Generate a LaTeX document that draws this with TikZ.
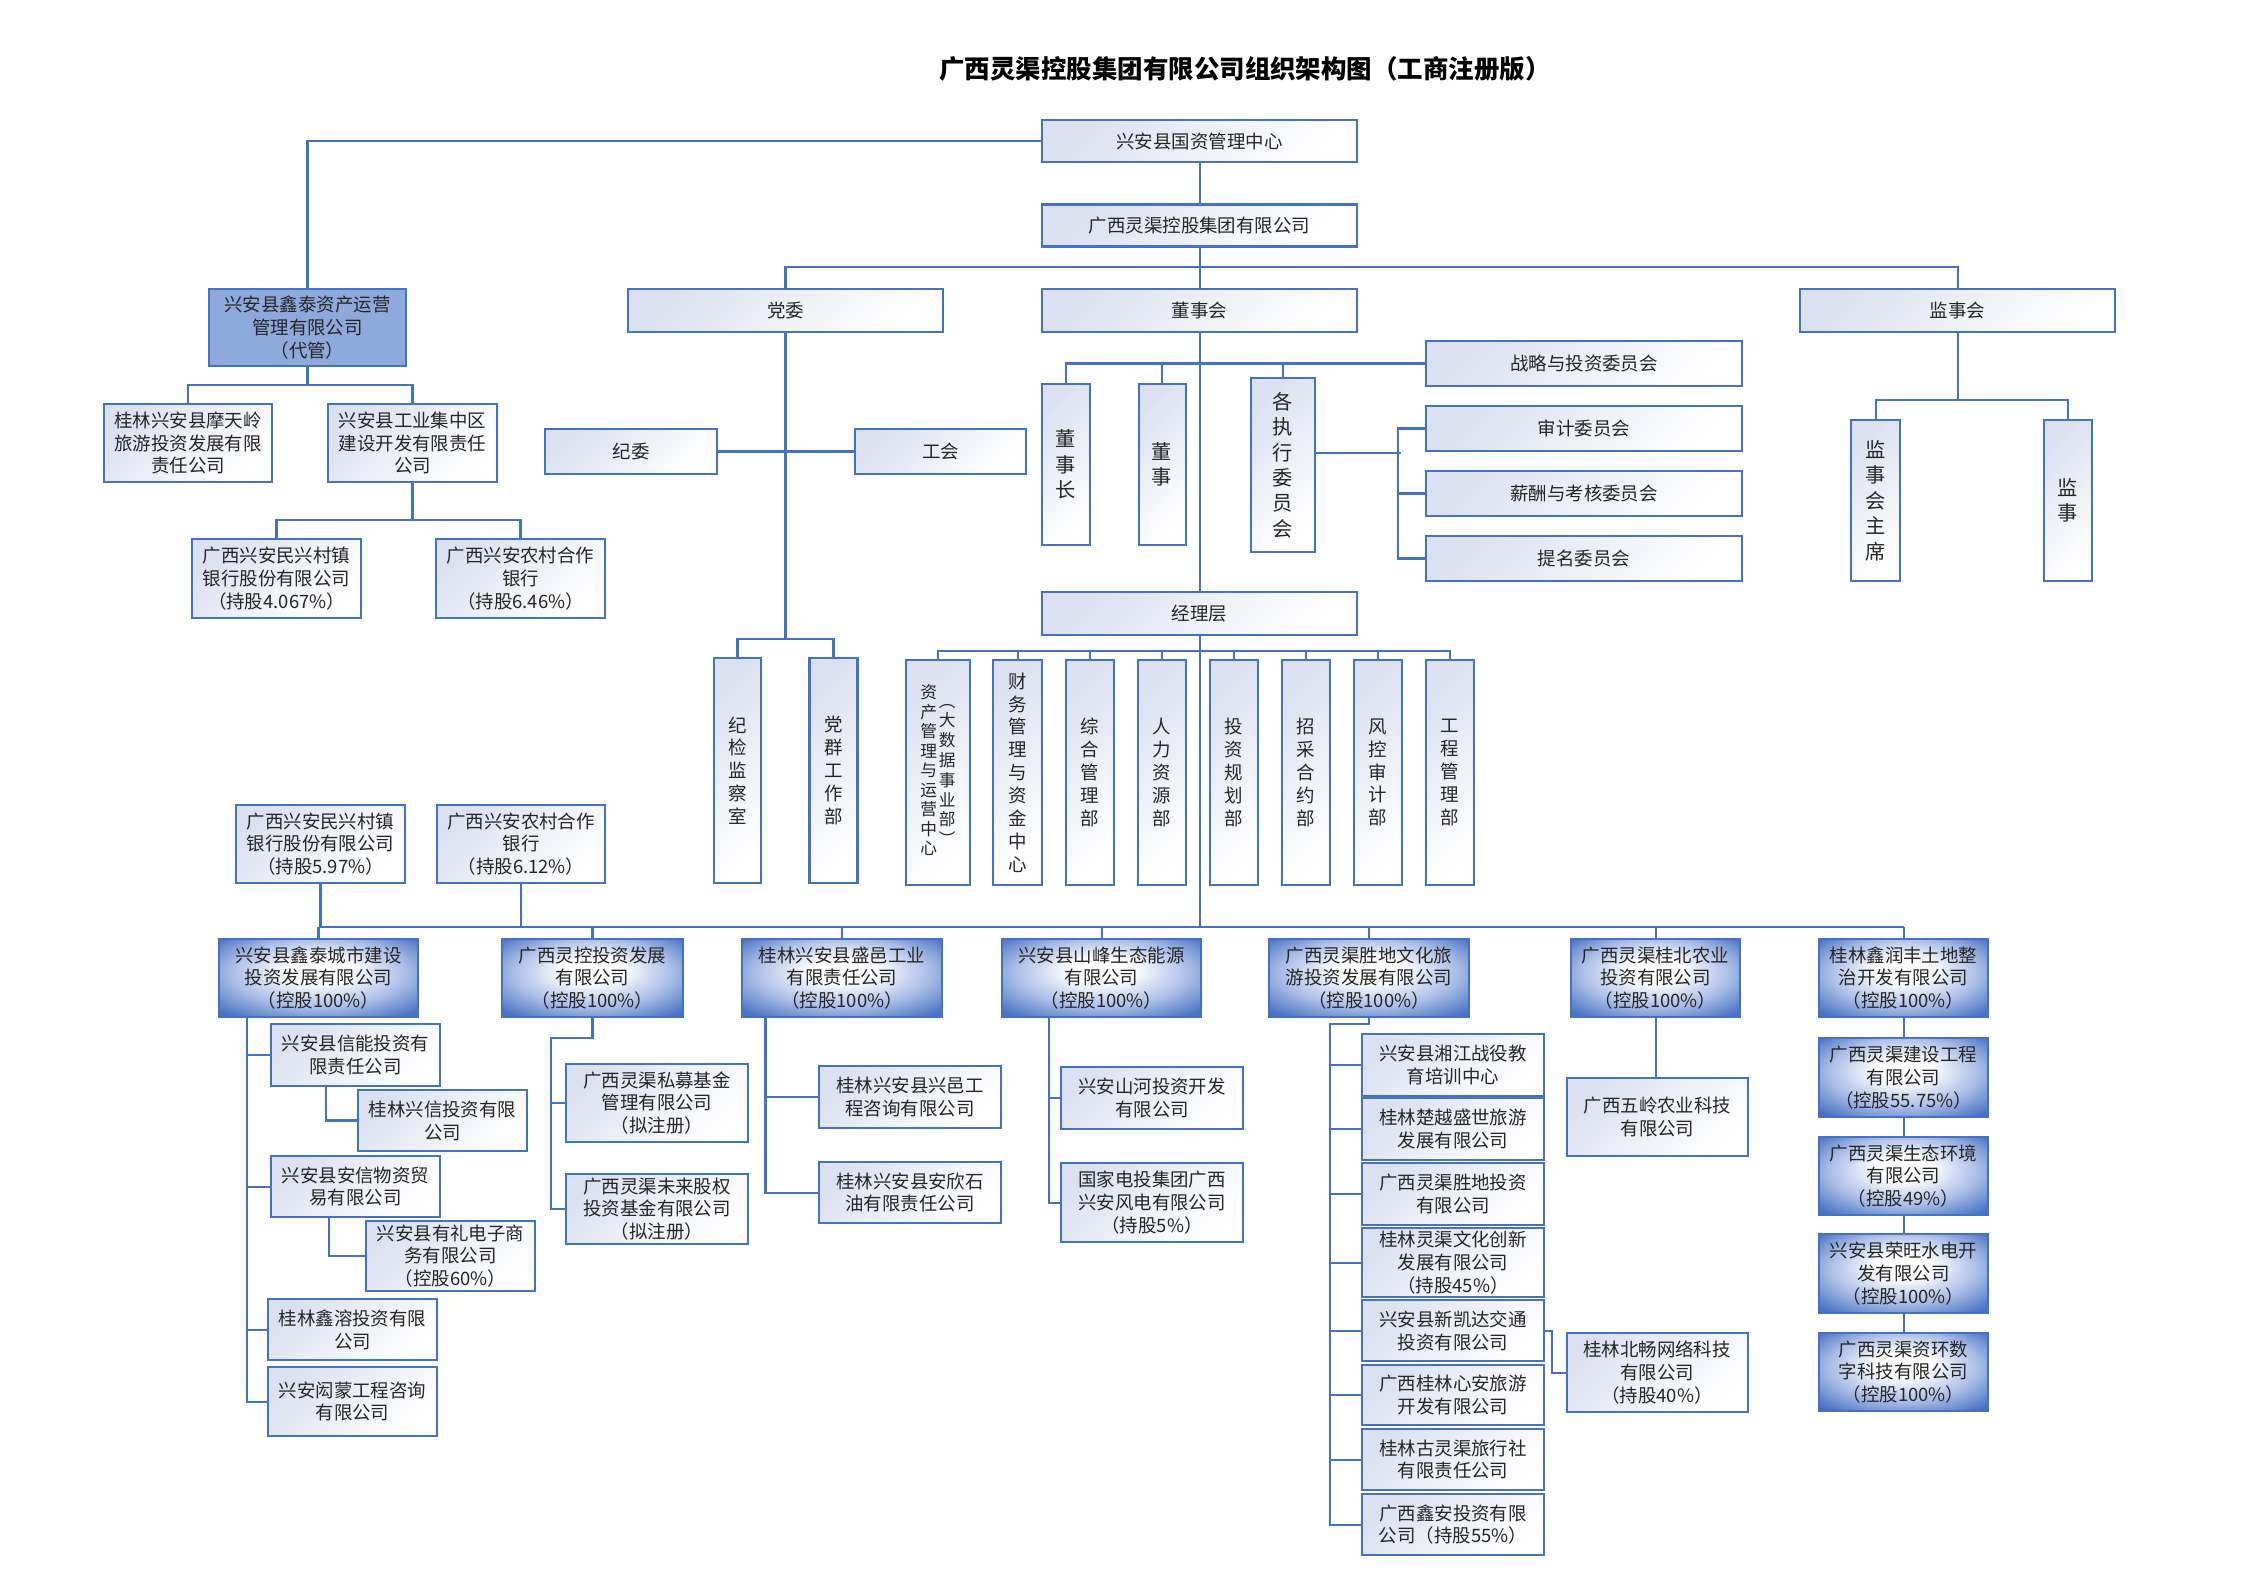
\documentclass[tikz,border=0pt]{standalone}
\usepackage{fontspec}
\setmainfont{Noto Sans CJK SC}
\usetikzlibrary{calc}
\definecolor{lnblue}{HTML}{4472C4}
\definecolor{boxlav}{HTML}{DCE1F1}
\definecolor{glowblue}{HTML}{4A72C4}
\definecolor{glowmid}{HTML}{A9BDE6}
\definecolor{xtfill}{HTML}{8EA9DB}
\definecolor{txt}{HTML}{262626}
\pgfdeclareradialshading{boxglow}{\pgfpoint{0bp}{6bp}}{color(0bp)=(white); color(8bp)=(white); color(22bp)=(glowmid); color(34bp)=(glowblue); color(50bp)=(glowblue)}
\newcommand{\stk}[1]{\begin{tabular}[c]{@{}c@{}}#1\end{tabular}}

\tikzset{
  box/.style={draw=lnblue, line width=1.15pt, align=center, inner sep=0pt, text=txt, font=\fontsize{10.5}{13}\selectfont},
  lbox/.style={box, top color=boxlav, bottom color=white, shading angle=45},
  cobox/.style={box, shade, shading=boxglow},
  mbox/.style={lbox, font=\fontsize{11.5}{14.5}\selectfont},
  sz/.style 2 args={minimum width=#1*0.2mm, minimum height=#2*0.2mm},
  link/.style={draw=lnblue, line width=1.15pt},
}

\begin{document}
\begin{tikzpicture}[x=0.2mm, y=-0.2mm]
  \useasboundingbox (0,0) rectangle (2244,1587);

  % title
  \node[font=\fontsize{14.5}{16}\selectfont\bfseries] (title) at (1245,69) {广西灵渠控股集团有限公司组织架构图（工商注册版）};

  % top levels
  \node[lbox, sz={315}{42}] (gz) at (1199.5,141) {兴安县国资管理中心};
  \node[lbox, sz={315}{42}] (jt) at (1199.5,225.5) {广西灵渠控股集团有限公司};
  \node[lbox, sz={315}{43}] (dw) at (785.5,310.5) {党委};
  \node[lbox, sz={315}{43}] (dsh) at (1199.5,310.5) {董事会};
  \node[lbox, sz={315}{43}] (jsh) at (1957.5,310.5) {监事会};

  % managed company
  \node[box, fill=xtfill, sz={197}{77}] (xt) at (307.5,327.5) {兴安县鑫泰资产运营\\管理有限公司\\（代管）};
  \node[lbox, sz={168}{78}] (mtl) at (188,443) {桂林兴安县摩天岭\\旅游投资发展有限\\责任公司};
  \node[lbox, sz={169}{78}] (gyq) at (412.5,443) {兴安县工业集中区\\建设开发有限责任\\公司};
  \node[lbox, sz={169}{79}] (mx1) at (276.5,578.5) {广西兴安民兴村镇\\银行股份有限公司\\（持股4.067\%）};
  \node[lbox, sz={169}{79}] (nc1) at (520.5,578.5) {广西兴安农村合作\\银行\\（持股6.46\%）};

  % party
  \node[lbox, sz={172}{45}] (jw) at (631,451.5) {纪委};
  \node[lbox, sz={171}{45}] (gh) at (940.5,451.5) {工会};
  \node[lbox, sz={47}{225}] (jjjc) at (737.5,770.5) {纪\\检\\监\\察\\室};
  \node[lbox, sz={48}{225}] (dq) at (833.5,770.5) {党\\群\\工\\作\\部};

  % board
  \node[mbox, sz={48}{161}] (dsz) at (1066,464.5) {董\\事\\长};
  \node[mbox, sz={47}{161}] (ds) at (1162,464.5) {董\\事};
  \node[mbox, sz={64}{174}] (gzx) at (1282.5,465) {各\\执\\行\\委\\员\\会};
  \node[lbox, sz={316}{45}] (zl) at (1584,363.5) {战略与投资委员会};
  \node[lbox, sz={316}{45}] (sj) at (1584,428.5) {审计委员会};
  \node[lbox, sz={316}{45}] (xc) at (1584,493.5) {薪酬与考核委员会};
  \node[lbox, sz={316}{45}] (tm) at (1584,558.5) {提名委员会};

  % supervisors
  \node[mbox, sz={49}{161}] (jszx) at (1875.5,500.5) {监\\事\\会\\主\\席};
  \node[mbox, sz={48}{161}] (js) at (2068,500.5) {监\\事};

  % management
  \node[lbox, sz={315}{43}] (jl) at (1199.5,613.5) {经理层};
  \node[lbox, sz={64}{225}, font=\fontsize{9.5}{11}\selectfont] (zc) at (938,772.5) {\stk{资\\产\\管\\理\\与\\运\\营\\中\\心}\hspace{1pt}\stk{︵\\大\\数\\据\\事\\业\\部\\︶}};
  \node[lbox, sz={49}{225}] (cw) at (1017.5,772.5) {财\\务\\管\\理\\与\\资\\金\\中\\心};
  \node[lbox, sz={48}{225}] (zhgl) at (1089.5,772.5) {综\\合\\管\\理\\部};
  \node[lbox, sz={48}{225}] (rl) at (1162,772.5) {人\\力\\资\\源\\部};
  \node[lbox, sz={48}{225}] (tzgh) at (1234,772.5) {投\\资\\规\\划\\部};
  \node[lbox, sz={48}{225}] (zcy) at (1306,772.5) {招\\采\\合\\约\\部};
  \node[lbox, sz={48}{225}] (fkjs) at (1378,772.5) {风\\控\\审\\计\\部};
  \node[lbox, sz={48}{225}] (gcgl) at (1450,772.5) {工\\程\\管\\理\\部};

  % shareholdings of the group
  \node[lbox, sz={169}{78}] (mx2) at (320.5,844) {广西兴安民兴村镇\\银行股份有限公司\\（持股5.97\%）};
  \node[lbox, sz={168}{78}] (nc2) at (521,844) {广西兴安农村合作\\银行\\（持股6.12\%）};

  % subsidiaries
  \node[cobox, sz={199}{78}] (cs) at (318.5,978) {兴安县鑫泰城市建设\\投资发展有限公司\\（控股100\%）};
  \node[cobox, sz={181}{78}] (lk) at (592.5,978) {广西灵控投资发展\\有限公司\\（控股100\%）};
  \node[cobox, sz={200}{78}] (sy) at (842,978) {桂林兴安县盛邑工业\\有限责任公司\\（控股100\%）};
  \node[cobox, sz={199}{78}] (sf) at (1101.5,978) {兴安县山峰生态能源\\有限公司\\（控股100\%）};
  \node[cobox, sz={200}{78}] (sd) at (1369,978) {广西灵渠胜地文化旅\\游投资发展有限公司\\（控股100\%）};
  \node[cobox, sz={169}{78}] (gb) at (1655.5,978) {广西灵渠桂北农业\\投资有限公司\\（控股100\%）};
  \node[cobox, sz={169}{78}] (xrf) at (1903.5,978) {桂林鑫润丰土地整\\治开发有限公司\\（控股100\%）};

  % under cs
  \node[lbox, sz={169}{62}] (xn) at (355.5,1055) {兴安县信能投资有\\限责任公司};
  \node[lbox, sz={169}{61}] (gx) at (442.5,1120.5) {桂林兴信投资有限\\公司};
  \node[lbox, sz={169}{61}] (ax) at (355.5,1186.5) {兴安县安信物资贸\\易有限公司};
  \node[lbox, sz={169}{70}] (yl) at (450.5,1256) {兴安县有礼电子商\\务有限公司\\（控股60\%）};
  \node[lbox, sz={169}{61}] (xr) at (352.5,1329.5) {桂林鑫溶投资有限\\公司};
  \node[lbox, sz={169}{69}] (hm) at (352.5,1401.5) {兴安闳蒙工程咨询\\有限公司};

  % under lk
  \node[lbox, sz={182}{78}] (sm) at (657,1103) {广西灵渠私募基金\\管理有限公司\\（拟注册）};
  \node[lbox, sz={182}{70}] (wl) at (657,1209) {广西灵渠未来股权\\投资基金有限公司\\（拟注册）};

  % under sy
  \node[lbox, sz={182}{62}] (xy) at (910,1097) {桂林兴安县兴邑工\\程咨询有限公司};
  \node[lbox, sz={182}{61}] (axsy) at (910,1192.5) {桂林兴安县安欣石\\油有限责任公司};

  % under sf
  \node[lbox, sz={182}{62}] (sh) at (1152,1098) {兴安山河投资开发\\有限公司};
  \node[lbox, sz={182}{79}] (gjdt) at (1152,1202.5) {国家电投集团广西\\兴安风电有限公司\\（持股5\%）};

  % under sd
  \node[lbox, sz={182}{62}] (sda) at (1453,1065) {兴安县湘江战役教\\育培训中心};
  \node[lbox, sz={182}{62}] (sdb) at (1453,1129) {桂林楚越盛世旅游\\发展有限公司};
  \node[lbox, sz={182}{62}] (sdc) at (1453,1194) {广西灵渠胜地投资\\有限公司};
  \node[lbox, sz={182}{69}] (sdd) at (1453,1262.5) {桂林灵渠文化创新\\发展有限公司\\（持股45\%）};
  \node[lbox, sz={182}{61}] (sde) at (1453,1330.5) {兴安县新凯达交通\\投资有限公司};
  \node[lbox, sz={182}{60}] (sdf) at (1453,1395) {广西桂林心安旅游\\开发有限公司};
  \node[lbox, sz={182}{61}] (sdg) at (1453,1459.5) {桂林古灵渠旅行社\\有限责任公司};
  \node[lbox, sz={182}{61}] (sdh) at (1453,1524.5) {广西鑫安投资有限\\公司（持股55\%）};
  \node[lbox, sz={181}{79}] (bc) at (1657,1372.5) {桂林北畅网络科技\\有限公司\\（持股40\%）};

  % under gb
  \node[lbox, sz={181}{78}] (wlny) at (1657.5,1117) {广西五岭农业科技\\有限公司};

  % under xrf
  \node[cobox, sz={169}{79}] (jsgc) at (1903.5,1077.5) {广西灵渠建设工程\\有限公司\\（控股55.75\%）};
  \node[cobox, sz={169}{78}] (sthj) at (1903.5,1176) {广西灵渠生态环境\\有限公司\\（控股49\%）};
  \node[cobox, sz={169}{79}] (rw) at (1903.5,1273.5) {兴安县荣旺水电开\\发有限公司\\（控股100\%）};
  \node[cobox, sz={169}{78}] (zhsz) at (1903.5,1372) {广西灵渠资环数\\字科技有限公司\\（控股100\%）};

  % connectors, top
  \draw[link] (gz.south) -- (jt.north);
  \draw[link] (jt.south) -- (dsh.north);
  \draw[link] (dw.north) -- ++(0,-21) -| (jsh.north);
  \draw[link] (gz.west) -| (xt.north);
  \draw[link] (xt.south) -- ++(0,18) -| (mtl.north);
  \draw[link] (xt.south) ++(0,18) -| (gyq.north);
  \draw[link] (gyq.south) -- ++(0,37) -| (mx1.north);
  \draw[link] (gyq.south) ++(0,37) -| (nc1.north);

  % party
  \draw[link] (dw.south) -- ++(0,306) -| (jjjc.north);
  \draw[link] (dw.south) ++(0,306) -| (dq.north);
  \draw[link] (jw.east) -- (gh.west);

  % board
  \draw[link] (dsz.north) |- (zl.west);
  \draw[link] (ds.north) -- (ds.north |- zl.west);
  \draw[link] (gzx.north) -- (gzx.north |- zl.west);
  \draw[link] (sj.west) -- ++(-27,0) |- (tm.west);
  \draw[link] (xc.west) -- ++(-27,0);
  \draw[link] ($(gzx.east)+(0,-12)$) -- ++(85,0);

  % supervisors
  \draw[link] (jsh.south) -- ++(0,66.5) -| (jszx.north);
  \draw[link] (jsh.south) ++(0,66.5) -| (js.north);

  % trunk and departments
  \draw[link] (dsh.south) -- (jl.north);
  \foreach \d in {zc,cw,zhgl,rl,tzgh,zcy,fkjs,gcgl}
    \draw[link] (jl.south) ++(0,14.5) -| (\d.north);
  \coordinate (bus) at (0,927);
  \draw[link] (jl.south) -- (jl.south |- bus);
  \draw[link] (cs.north |- bus) -- (xrf.north |- bus);
  \foreach \c in {cs,lk,sy,sf,sd,gb,xrf}
    \draw[link] (\c.north) -- (\c.north |- bus);
  \draw[link] (mx2.south) -- (mx2.south |- bus);
  \draw[link] (nc2.south) -- (nc2.south |- bus);

  % cs
  \coordinate (csv) at ($(cs.south west)+(29,0)$);
  \draw[link] (csv) |- (hm.west);
  \foreach \n in {xn,ax,xr}
    \draw[link] (\n.west) -- (\n.west -| csv);
  \draw[link] ($(xn.south west)+(56,0)$) |- (gx.west);
  \draw[link] ($(ax.south west)+(59,0)$) |- (yl.west);

  % lk
  \coordinate (lkv) at ($(lk.south)+(-41.5,20)$);
  \draw[link] (lk.south) |- (lkv) |- (wl.west);
  \draw[link] (sm.west) -- (sm.west -| lkv);

  % sy
  \coordinate (syv) at ($(sy.south west)+(24.5,0)$);
  \draw[link] (syv) |- (axsy.west);
  \draw[link] (xy.west) -- (xy.west -| syv);

  % sf
  \coordinate (sfv) at ($(sf.south west)+(48,0)$);
  \draw[link] (sfv) |- (gjdt.west);
  \draw[link] (sh.west) -- (sh.west -| sfv);

  % sd
  \coordinate (sdv) at ($(sd.south)+(-39,6)$);
  \draw[link] (sd.south) |- (sdv) |- (sdh.west);
  \foreach \n in {sda,sdb,sdc,sdd,sde,sdf,sdg}
    \draw[link] (\n.west) -- (\n.west -| sdv);
  \draw[link] (sde.east) -- ++(7,0) |- (bc.west);

  % gb
  \draw[link] (gb.south) -- (gb.south |- wlny.north);

  % xrf
  \draw[link] (xrf.south) -- (jsgc.north);
  \draw[link] (jsgc.south) -- (sthj.north);
  \draw[link] (sthj.south) -- (rw.north);
  \draw[link] (rw.south) -- (zhsz.north);
\end{tikzpicture}
\end{document}
